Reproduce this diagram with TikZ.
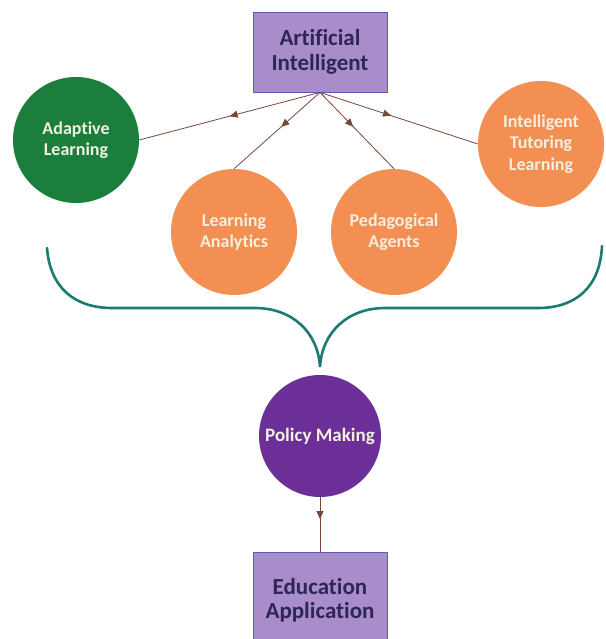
\documentclass[tikz,border=0pt]{standalone}
\usepackage{fontspec}
\setmainfont{Carlito}[Ligatures=NoCommon]
\usepackage{xcolor}
\usetikzlibrary{arrows, arrows.meta}
\usetikzlibrary{positioning}
\usetikzlibrary{decorations.markings}

\definecolor{boxfill}{HTML}{A98CCA}
\definecolor{boxline}{HTML}{5F58B4}
\definecolor{boxtext}{HTML}{2E2658}
\definecolor{adaptgreen}{HTML}{1C7E3D}
\definecolor{topicorange}{HTML}{F38F52}
\definecolor{policypurple}{HTML}{6B2F97}
\definecolor{circletext}{HTML}{F3F0DF}
\definecolor{linkbrown}{HTML}{7A4636}
\definecolor{braceteal}{HTML}{1B7A72}

\begin{document}
\begin{tikzpicture}[x=1pt,y=-1pt,
	conceptbox/.style={draw=boxline,fill=boxfill,line width=0.8pt,text=boxtext,
		font=\fontsize{23}{24.5}\selectfont\bfseries,align=center,
		minimum width=134pt,minimum height=80pt,inner sep=0pt},
	topic/.style={circle,fill=#1,text=circletext,font=\fontsize{18}{21.5}\selectfont\bfseries,
		align=center,minimum size=126pt,inner sep=0pt},
	link/.style={draw=linkbrown,line width=0.8pt,postaction={decorate},
		decoration={markings,mark=at position #1 with {\arrow[linkbrown]{Triangle[length=8pt,width=7pt]}}}},
	link/.default=0.45]
				
				\useasboundingbox (0,0) rectangle (605,639);
				
				% Top box
				\node[conceptbox] (ai) at (320,52) {Artificial\\Intelligent};
				
				% Four topics round it
				\node[topic=adaptgreen] (adapt) at (76,140) {Adaptive\\Learning};
				\node[topic=topicorange] (analytics) at (234,232) {Learning\\Analytics};
				\node[topic=topicorange] (agents) at (394,232) {Pedagogical\\Agents};
				\node[topic=topicorange] (itl) at (541,144) {Intelligent\\Tutoring\\Learning};
				
				\draw[link=0.5] (ai.south) -- (adapt.east);
				\draw[link] (ai.south) -- (analytics.north);
				\draw[link] (ai.south) -- (agents.north);
				\draw[link] (ai.south) -- (itl.west);
				
				% Brace gathering the topics
				\draw[braceteal,line width=2.6pt,line cap=round,line join=miter]
					(47,248) .. controls (50,288) and (75,308) .. (112,308)
					-- (255,308) .. controls (292,308) and (318,332) .. (320,367)
					.. controls (322,332) and (348,308) .. (385,308)
					-- (538,308) .. controls (575,308) and (600,288) .. (602,246);
				
				% Policy and application
				\node[topic=policypurple,minimum size=122pt,font=\fontsize{19}{22}\selectfont\bfseries] (policy) at (320,436) {Policy Making};
				\node[conceptbox,minimum height=96pt,anchor=north] (edu) at (320,552) {Education\\Application};
				
				\draw[link=0.4] (policy.south) -- (edu.north);
				
			\end{tikzpicture}
\end{document}
